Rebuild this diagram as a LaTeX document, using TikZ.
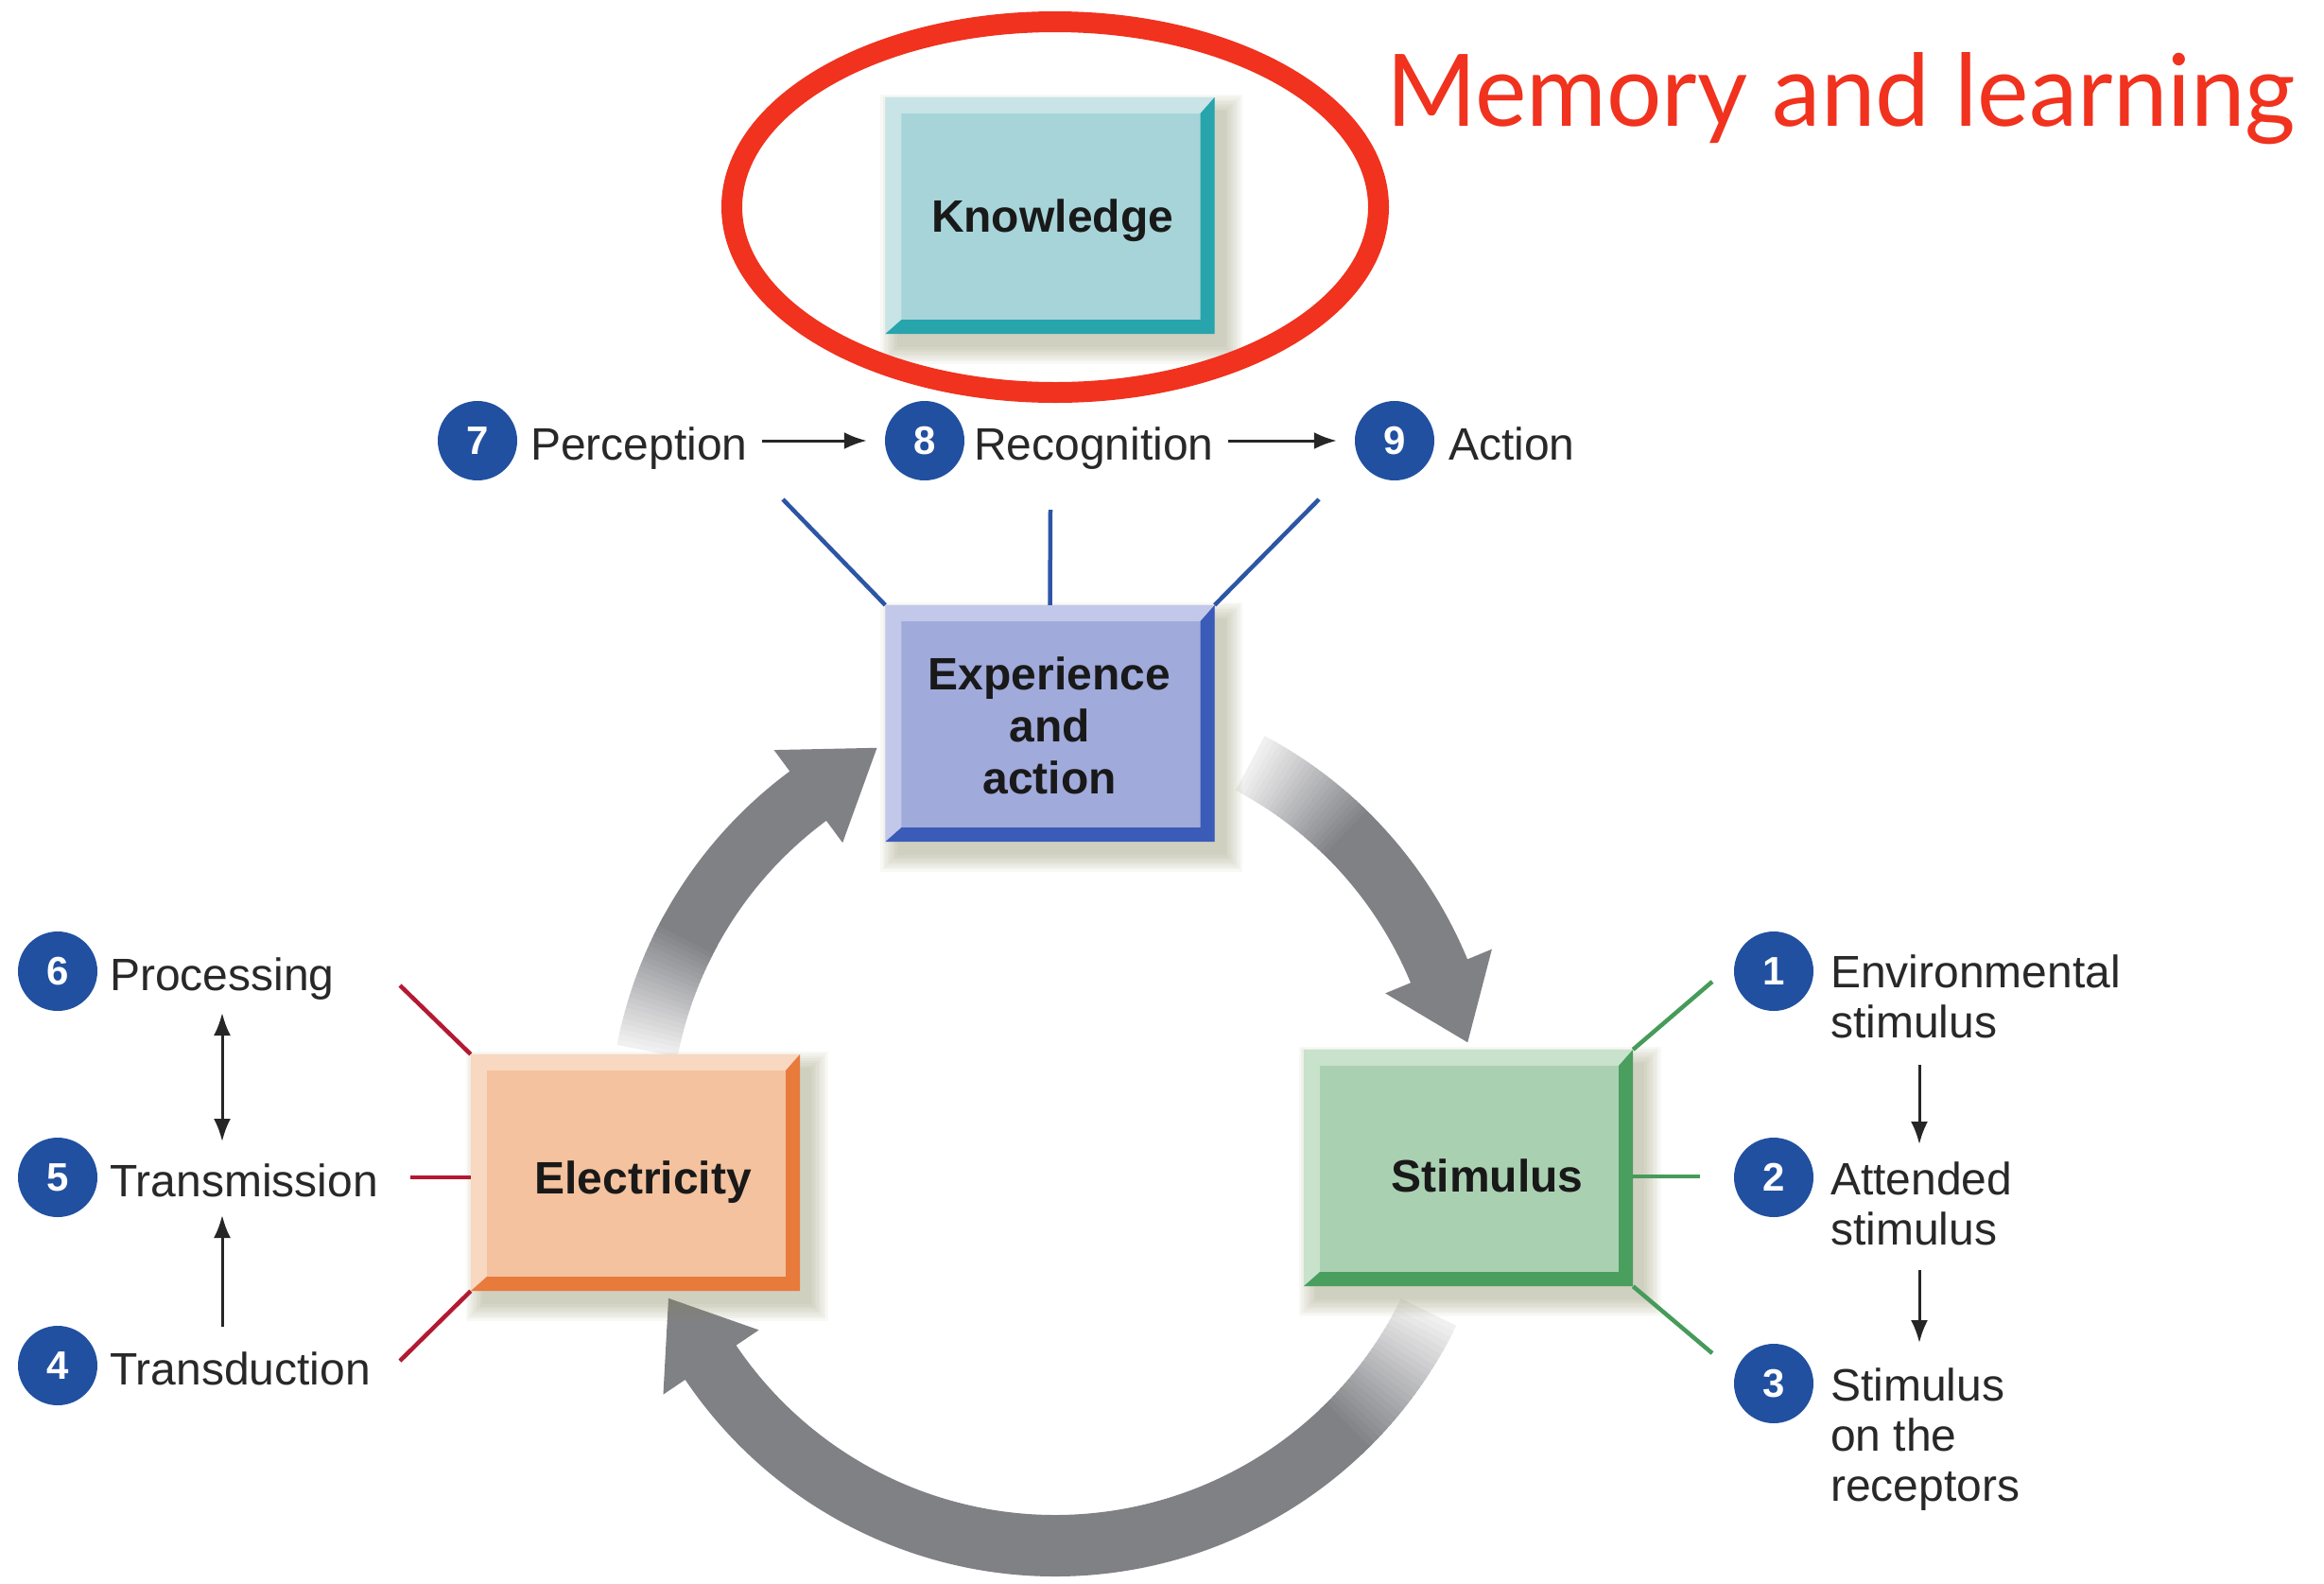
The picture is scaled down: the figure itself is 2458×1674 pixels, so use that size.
\documentclass[tikz,border=0pt]{standalone}
\usepackage{fontspec}
\setmainfont{Liberation Sans}
\newfontfamily\titlefont{Lato}
\usetikzlibrary{arrows.meta,calc}
\definecolor{numblue}{RGB}{33,80,160}
\definecolor{linkblue}{RGB}{45,85,165}
\definecolor{linkred}{RGB}{180,25,50}
\definecolor{linkgreen}{RGB}{70,155,90}
\definecolor{arrowgray}{RGB}{128,129,133}
\definecolor{titlered}{RGB}{240,50,30}
\definecolor{txtgray}{RGB}{40,40,40}
\definecolor{boxtext}{RGB}{25,25,25}
\definecolor{shadowc}{RGB}{140,140,100}
\definecolor{knface}{RGB}{166,212,217}
\definecolor{knlight}{RGB}{200,228,231}
\definecolor{kndark}{RGB}{40,164,172}
\definecolor{exface}{RGB}{160,170,219}
\definecolor{exlight}{RGB}{194,200,234}
\definecolor{exdark}{RGB}{58,92,184}
\definecolor{elface}{RGB}{244,194,158}
\definecolor{ellight}{RGB}{248,216,192}
\definecolor{eldark}{RGB}{232,122,60}
\definecolor{stface}{RGB}{170,208,178}
\definecolor{stlight}{RGB}{200,226,204}
\definecolor{stdark}{RGB}{74,158,94}
% curved gray cycle arrow: #1 tail angle, #2 end of fade, #3 head base angle, #4 tip angle
\newcommand{\cycarrow}[4]{%
  \begin{scope}[shift={(cyc)},x=1pt,y=1pt]
    \foreach \i in {0,...,23}{%
      \pgfmathsetmacro\angA{#1+(#2-#1)*\i/24}%
      \pgfmathsetmacro\angB{#1+(#2-#1)*(\i+1)/24-0.6}%
      \pgfmathtruncatemacro\pp{12+88*\i/23}%
      \fill[arrowgray!\pp!white] (\angA:407) arc[start angle=\angA,end angle=\angB,radius=407]
        -- (\angB:472) arc[start angle=\angB,end angle=\angA,radius=472] -- cycle;
    }
    \fill[arrowgray] (#2:407) arc[start angle=#2,end angle=#3,radius=407]
      -- (#3:378) -- (#4:446) -- (#3:500) -- (#3:472)
      arc[start angle=#3,end angle=#2,radius=472] -- cycle;
  \end{scope}}
% bevelled box: #1 name, #2 x, #3 y, #4 face, #5 light, #6 dark
\newcommand{\bevbox}[6]{%
  \foreach \k in {0,...,7}{%
    \fill[shadowc,opacity=0.06] ($(#2,#3)+(-162-\k*2.5,-111-\k*2.5)$) rectangle ($(#2,#3)+(186+\k*2.5,139+\k*2.5)$);
  }
  \node[boxface,fill=#4] (#1) at (#2,#3) {};
  \fill[#5] (#1.north west) -- (#1.north east) -- ($(#1.north east)+(-15,17)$) -- ($(#1.north west)+(17,17)$)
    -- ($(#1.south west)+(17,-15)$) -- (#1.south west) -- cycle;
  \fill[#6] (#1.north east) -- (#1.south east) -- (#1.south west) -- ($(#1.south west)+(17,-15)$)
    -- ($(#1.south east)+(-15,-15)$) -- ($(#1.north east)+(-15,17)$) -- cycle;
}
\begin{document}
\begin{tikzpicture}[x=1pt,y=-1pt,
  boxface/.style={rectangle,minimum width=348pt,minimum height=250pt,inner sep=0pt,draw=none},
  boxtxt/.style={font=\bfseries\fontsize{48}{55}\selectfont,text=boxtext,align=center,inner sep=0pt},
  numc/.style={circle,fill=numblue,text=white,font=\bfseries\fontsize{42}{42}\selectfont,minimum size=84pt,inner sep=0pt},
  lab/.style={font=\fontsize{48}{53}\selectfont,text=txtgray,inner sep=0pt,align=left},
  arr/.style={draw=black!85,line width=3pt,-{Latex[length=24pt,width=18pt]}},
  arrboth/.style={draw=black!85,line width=3pt,{Latex[length=24pt,width=18pt]}-{Latex[length=24pt,width=18pt]}},
  bline/.style={draw=linkblue,line width=4.5pt},
  rline/.style={draw=linkred,line width=4.5pt},
  gline/.style={draw=linkgreen,line width=4.5pt}]
\useasboundingbox (0,0) rectangle (2458,1674);
\fill[white] (0,0) rectangle (2458,1674);

% cycle arrows
\coordinate (cyc) at (1116,1195);
\cycarrow{169}{152}{126.5}{115}
\cycarrow{62}{45}{22.5}{12}
\cycarrow{-26}{-46}{-146}{-156.5}

% boxes
\bevbox{know}{1110.5}{228}{knface}{knlight}{kndark}
\bevbox{exp}{1110.5}{765}{exface}{exlight}{exdark}
\bevbox{elec}{672}{1240}{elface}{ellight}{eldark}
\bevbox{stim}{1553}{1235}{stface}{stlight}{stdark}

\node[boxtxt,anchor=base] (knowT) at (1113,245) {Knowledge};
\node[boxtxt,anchor=north] (expT) at (1110,695) {Experience\\and\\action};
\node[boxtxt,anchor=base] (elecT) at (680,1262) {Electricity};
\node[boxtxt,anchor=base] (stimT) at (1573,1260) {Stimulus};

% memory ellipse and title
\coordinate (ell) at (1116,219);
\draw[titlered,line width=22pt] (ell) ellipse [x radius=342pt,y radius=196pt];
\node[anchor=base west,inner sep=0pt,text=titlered] (title) at (1466,133)
  {\resizebox{962pt}{78pt}{\titlefont\fontsize{108}{120}\selectfont Memory and learning}};

% numbered circles
\node[numc] (c7) at (505,466) {7};
\node[numc] (c8) at (978,466) {8};
\node[numc] (c9) at (1475,466) {9};
\node[numc] (c6) at (61,1027) {6};
\node[numc] (c5) at (61,1245) {5};
\node[numc] (c4) at (61,1444) {4};
\node[numc] (c1) at (1876,1027) {1};
\node[numc] (c2) at (1876,1245) {2};
\node[numc] (c3) at (1876,1463) {3};

% labels
\node[lab,anchor=base west] (t7) at (561,486) {Perception};
\node[lab,anchor=base west] (t8) at (1030,486) {Recognition};
\node[lab,anchor=base west] (t9) at (1532,486) {Action};
\node[lab,anchor=base west] (t6) at (116,1047) {Processing};
\node[lab,anchor=base west] (t5) at (116,1265) {Transmission};
\node[lab,anchor=base west] (t4) at (116,1464) {Transduction};
\node[lab,anchor=north west] (t1) at (1936,1010) {Environmental\\stimulus};
\node[lab,anchor=north west] (t2) at (1936,1228) {Attended\\stimulus};
\node[lab,anchor=north west] (t3) at (1936,1446) {Stimulus\\on the\\receptors};

% black arrows
\draw[arr] ($(t7.east |- c7)+(15,0)$) -- ($(c8.west)+(-19,0)$);
\draw[arr] ($(t8.east |- c8)+(15,0)$) -- ($(c9.west)+(-19,0)$);
\draw[arrboth] ($(c6)+(174,44)$) -- ($(c5)+(174,-38)$);
\draw[arr] ($(c4)+(174,-41)$) -- ($(c5)+(174,40)$);
\draw[arr] ($(c1)+(154,99)$) -- ($(c2)+(154,-35)$);
\draw[arr] ($(c2)+(154,98)$) -- ($(c3)+(154,-43)$);

% box connector lines
\coordinate (pl) at (828,528);
\coordinate (pm) at (1111,539);
\coordinate (pr) at (1395,528);
\draw[bline] (exp.north west) -- (pl);
\draw[bline] (exp.north) -- (pm);
\draw[bline] (exp.north east) -- (pr);
\coordinate (rl1) at (423,1042);
\coordinate (rl2) at (434,1245);
\coordinate (rl3) at (423,1439);
\draw[rline] (elec.north west) -- (rl1);
\draw[rline] ([yshift=-5pt]elec.west) -- (rl2);
\draw[rline] (elec.south west) -- (rl3);
\coordinate (g1) at (1811,1038);
\coordinate (g2) at (1798,1244);
\coordinate (g3) at (1811,1431);
\draw[gline] (stim.north east) -- (g1);
\draw[gline] ([yshift=-9pt]stim.east) -- (g2);
\draw[gline] (stim.south east) -- (g3);
\end{tikzpicture}
\end{document}
